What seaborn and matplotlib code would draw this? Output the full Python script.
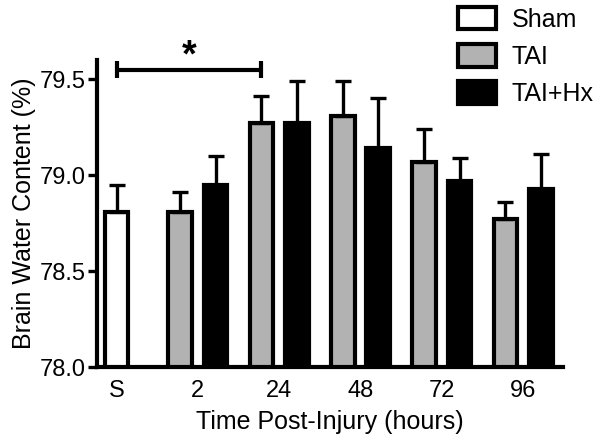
import pandas as pd
import matplotlib
matplotlib.use('Agg')
import matplotlib.pyplot as plt
import seaborn as sns
from matplotlib.patches import Patch

# data
times = ['S', '2', '24', '48', '72', '96']
sham_mean = [78.81]
sham_sem = [0.14]
injury_times = ['2', '24', '48', '72', '96']
tai_mean = [78.81, 79.27, 79.31, 79.07, 78.77]
tai_sem = [0.10, 0.14, 0.18, 0.17, 0.09]
hx_mean = [78.95, 79.27, 79.14, 78.97, 78.93]
hx_sem = [0.15, 0.22, 0.26, 0.12, 0.18]
groups = ['Sham', 'TAI', 'TAI+Hx']
colors = {'Sham': 'white', 'TAI': '#b2b2b2', 'TAI+Hx': 'black'}

sns.set_style('ticks')
plt.rcParams['font.family'] = ['Liberation Sans', 'DejaVu Sans']
for k in ['text.color', 'axes.labelcolor', 'xtick.color', 'ytick.color', 'axes.edgecolor']:
    plt.rcParams[k] = 'black'

sham_df = pd.DataFrame({'time': ['S'], 'wc': sham_mean, 'sem': sham_sem})
inj_df = pd.DataFrame({
    'time': injury_times * 2,
    'group': ['TAI'] * 5 + ['TAI+Hx'] * 5,
    'wc': tai_mean + hx_mean,
    'sem': tai_sem + hx_sem,
})

fig = plt.figure(figsize=(6, 4.4), dpi=100)
ax = fig.add_axes([97 / 600, 1 - 367 / 440, 466 / 600, 307 / 440])

lw = 3.0
sns.barplot(data=sham_df, x='time', y='wc', order=times, color='white',
            edgecolor='black', linewidth=lw, width=0.29, errorbar=None, ax=ax)
n_sham = len(ax.patches)
sns.barplot(data=inj_df, x='time', y='wc', hue='group', order=times,
            hue_order=['TAI', 'TAI+Hx'], palette=[colors['TAI'], colors['TAI+Hx']],
            edgecolor='black', linewidth=lw, width=0.874, gap=0.336,
            errorbar=None, legend=False, ax=ax)

# upward error bars, positioned from the drawn bars
bars = [p for p in ax.patches if p.get_height() > 0]
xs = [p.get_x() + p.get_width() / 2 for p in bars]
ys = [p.get_height() for p in bars]
errs = sham_sem + tai_sem + hx_sem
ax.errorbar(xs, ys, yerr=[[0] * len(errs), errs], fmt='none', ecolor='black',
            elinewidth=2.4, capsize=5.5, capthick=2.4, zorder=1)

ax.set_ylim(78.0, 79.6)
ax.set_xlim(-0.24, 5.49)
ax.set_yticks([78.0, 78.5, 79.0, 79.5])
ax.set_yticklabels(['78.0', '78.5', '79.0', '79.5'])
sns.despine(ax=ax)
for s in ['left', 'bottom']:
    ax.spines[s].set_linewidth(3.0)
ax.tick_params(axis='y', length=6.5, width=2.4, pad=1.5, labelsize=17)
ax.tick_params(axis='x', length=0, pad=9, labelsize=17)
ax.set_xlabel('Time Post-Injury (hours)', fontsize=18, labelpad=6)
ax.set_ylabel('Brain Water Content (%)', fontsize=18, labelpad=3)

# significance bracket between sham and TAI at 24 h
x0 = xs[0]
x1 = xs[n_sham + 1]
yb = 79.55
ax.plot([x0, x1], [yb, yb], color='black', lw=3.0, clip_on=False, solid_capstyle='butt')
for xx in (x0, x1):
    ax.plot([xx, xx], [yb - 0.045, yb + 0.045], color='black', lw=3.0,
            clip_on=False, solid_capstyle='butt')
ax.text((x0 + x1) / 2, yb - 0.025, '*', ha='center', va='bottom', fontsize=27,
        fontweight='bold', clip_on=False)

handles = [Patch(facecolor=colors[g], edgecolor='black', linewidth=lw, label=g)
           for g in groups]
fig.legend(handles=handles, loc='upper left', bbox_to_anchor=(458 / 600, 1 - 7 / 440),
           frameon=False, fontsize=18, handlelength=1.5, handleheight=1.0,
           labelspacing=0.5, handletextpad=0.65, borderpad=0, borderaxespad=0)

fig.savefig('out.png', dpi=100)
